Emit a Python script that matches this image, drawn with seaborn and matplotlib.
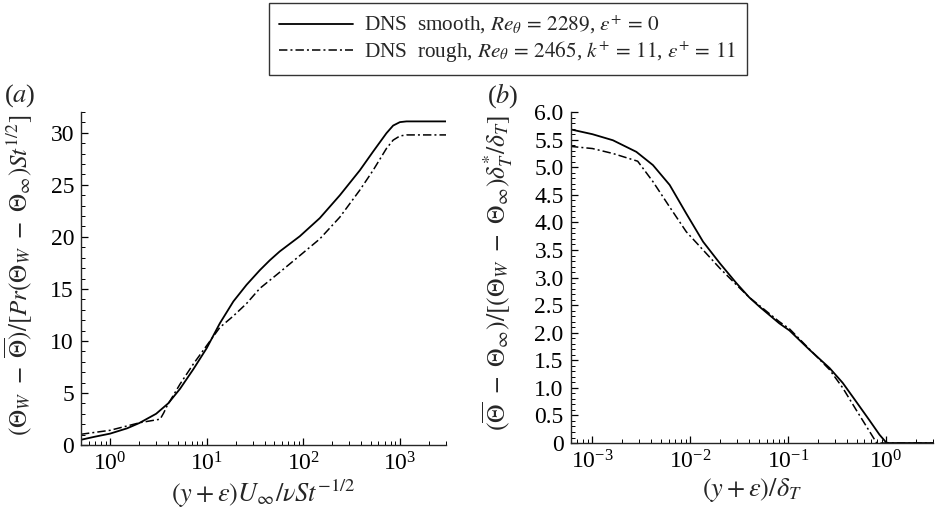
"""Mean temperature profiles, smooth vs rough wall DNS (panels a and b)."""

import matplotlib
matplotlib.use("Agg")
import matplotlib.pyplot as plt
import numpy as np
import seaborn as sns
from matplotlib.lines import Line2D
from matplotlib.ticker import FixedLocator, FuncFormatter, LogLocator, NullFormatter

# ---- panel (a): inner scaling ----
a_smooth_x = [0.5, 0.7, 1, 1.5, 2, 3, 4, 5.3, 7.3, 10, 13.7, 18.9, 25.9, 35.5, 45, 57, 92, 148,
              239, 385, 528, 726, 851, 1000, 1170, 3000]
a_smooth_y = [0.5, 0.8, 1.09, 1.6, 2.1, 3.0, 4.0, 5.4, 7.3, 9.3, 11.7, 13.8, 15.4, 16.8, 17.75,
              18.6, 20.06, 21.8, 24.0, 26.4, 28.2, 29.97, 30.7, 31.03, 31.1, 31.1]
a_rough_x = [0.5, 1, 2.05, 3.3, 3.6, 3.86, 5.3, 7.3, 10, 13.7, 18.9, 25.9, 35.5, 57, 92, 148,
             239, 385, 528, 726, 851, 1000, 1170, 3000]
a_rough_y = [1.03, 1.41, 2.15, 2.48, 3.1, 3.7, 5.85, 7.8, 9.55, 11.3, 12.4, 13.6, 15.05, 16.6,
             18.2, 19.8, 21.9, 24.5, 26.4, 28.5, 29.3, 29.7, 29.8, 29.8]

# ---- panel (b): outer scaling ----
b_smooth_x = [5.9e-4, 1e-3, 1.62e-3, 2.81e-3, 4.15e-3, 6.15e-3, 9.1e-3, 1.35e-2, 2.0e-2, 2.95e-2,
              4.0e-2, 5.1e-2, 8.1e-2, 0.103, 0.165, 0.264, 0.36, 0.494, 0.676, 0.855, 1.0, 1.06, 3.0]
b_smooth_y = [5.69, 5.60, 5.49, 5.28, 5.04, 4.68, 4.16, 3.65, 3.26, 2.90, 2.64, 2.47, 2.17, 2.04,
              1.69, 1.36, 1.09, 0.75, 0.41, 0.15, 0.01, 0.0, 0.0]
b_rough_x = [5.9e-4, 1e-3, 1.62e-3, 2.9e-3, 4.15e-3, 6.15e-3, 9.1e-3, 1.35e-2, 2.0e-2, 2.95e-2,
             4.0e-2, 5.1e-2, 8.1e-2, 0.103, 0.165, 0.264, 0.36, 0.494, 0.676, 0.8, 3.0]
b_rough_y = [5.38, 5.34, 5.25, 5.11, 4.74, 4.28, 3.83, 3.50, 3.17, 2.87, 2.64, 2.49, 2.2, 2.07,
             1.70, 1.33, 1.0, 0.60, 0.21, 0.0, 0.0]

smooth_label = r"DNS  smooth, $Re_{\theta}\,=\,2289$, $\varepsilon^{+}\,=\,0$"
rough_label = r"DNS  rough, $Re_{\theta}\,=\,2465$, $k^{+}\,=\,11$, $\varepsilon^{+}\,=\,11$"

sns.set_theme(style="ticks")
plt.rcParams["font.family"] = ["Liberation Serif", "DejaVu Serif"]
plt.rcParams["mathtext.fontset"] = "stix"
plt.rcParams["axes.linewidth"] = 1.0
plt.rcParams["xtick.direction"] = "in"
plt.rcParams["ytick.direction"] = "in"
plt.rcParams["xtick.color"] = "black"
plt.rcParams["ytick.color"] = "black"

DASHDOT = (0, (5.5, 2.0, 1.3, 2.0))

fig = plt.figure(figsize=(9.36, 5.17), dpi=100)
ax_a = fig.add_axes([0.0865, 0.1393, 0.390, 0.644])
ax_b = fig.add_axes([0.6097, 0.1431, 0.387, 0.640])


def draw(ax, xs, ys, xr, yr):
    sns.lineplot(x=xs, y=ys, ax=ax, color="black", lw=1.3, estimator=None)
    sns.lineplot(x=xr, y=yr, ax=ax, color="black", lw=1.1, linestyle=DASHDOT, estimator=None)
    ax.set_xscale("log")
    for side in ("top", "right"):
        ax.spines[side].set_visible(False)
    ax.tick_params(which="major", length=5, width=0.9, labelsize=17, pad=5)
    ax.tick_params(which="minor", length=3, width=0.7)
    ax.xaxis.set_major_locator(LogLocator(base=10, numticks=12))
    ax.xaxis.set_minor_locator(LogLocator(base=10, subs=np.arange(2, 10), numticks=12))
    ax.xaxis.set_minor_formatter(NullFormatter())


draw(ax_a, a_smooth_x, a_smooth_y, a_rough_x, a_rough_y)
ax_a.set_xlim(0.5, 3000)
ax_a.set_ylim(0, 32)
ax_a.yaxis.set_major_locator(FixedLocator(np.arange(0, 31, 5)))
ax_a.yaxis.set_minor_locator(FixedLocator(np.arange(0, 33, 1)))
ax_a.set_xlabel(r"$(y+\varepsilon)U_{\infty}/\nu St^{-1/2}$", fontsize=19, labelpad=2)
ax_a.set_ylabel(r"$(\mathit{\Theta}_W\ -\ \overline{\mathit{\Theta}})/[Pr(\mathit{\Theta}_W\ -\ \mathit{\Theta}_{\infty})St^{1/2}]$",
                fontsize=18)
ax_a.yaxis.set_label_coords(-0.13, 0.51)
ax_a.text(-0.21, 1.05, r"($a$)", transform=ax_a.transAxes, fontsize=19, ha="left", va="center")

draw(ax_b, b_smooth_x, b_smooth_y, b_rough_x, b_rough_y)
ax_b.set_xlim(6e-4, 3)
ax_b.set_ylim(0, 6)
ax_b.yaxis.set_major_locator(FixedLocator(np.arange(0, 6.01, 0.5)))
ax_b.yaxis.set_minor_locator(FixedLocator(np.arange(0, 6.01, 0.1)))
ax_b.yaxis.set_major_formatter(FuncFormatter(lambda v, p: "0" if abs(v) < 1e-9 else f"{v:.1f}"))
ax_b.set_xlabel(r"$(y+\varepsilon)/\delta_T$", fontsize=19, labelpad=2)
ax_b.set_ylabel(r"$(\overline{\mathit{\Theta}}\ -\ \mathit{\Theta}_{\infty})/[(\mathit{\Theta}_W\ -\ \mathit{\Theta}_{\infty})\delta_T^{*}/\delta_T]$",
                fontsize=18.5)
ax_b.yaxis.set_label_coords(-0.155, 0.515)
ax_b.text(-0.23, 1.05, r"($b$)", transform=ax_b.transAxes, fontsize=19, ha="left", va="center")

handles = [
    Line2D([], [], color="black", lw=1.3),
    Line2D([], [], color="black", lw=1.1, linestyle=DASHDOT),
]
leg = fig.legend(handles, [smooth_label, rough_label], loc="upper center",
                 bbox_to_anchor=(0.5425, 0.9936), frameon=True, fancybox=False,
                 edgecolor="black", fontsize=15.3, handlelength=3.45, handletextpad=0.55,
                 borderpad=0.5, labelspacing=0.12, borderaxespad=0.0)
leg.get_frame().set_linewidth(1.0)

fig.savefig("out.png", dpi=100)
